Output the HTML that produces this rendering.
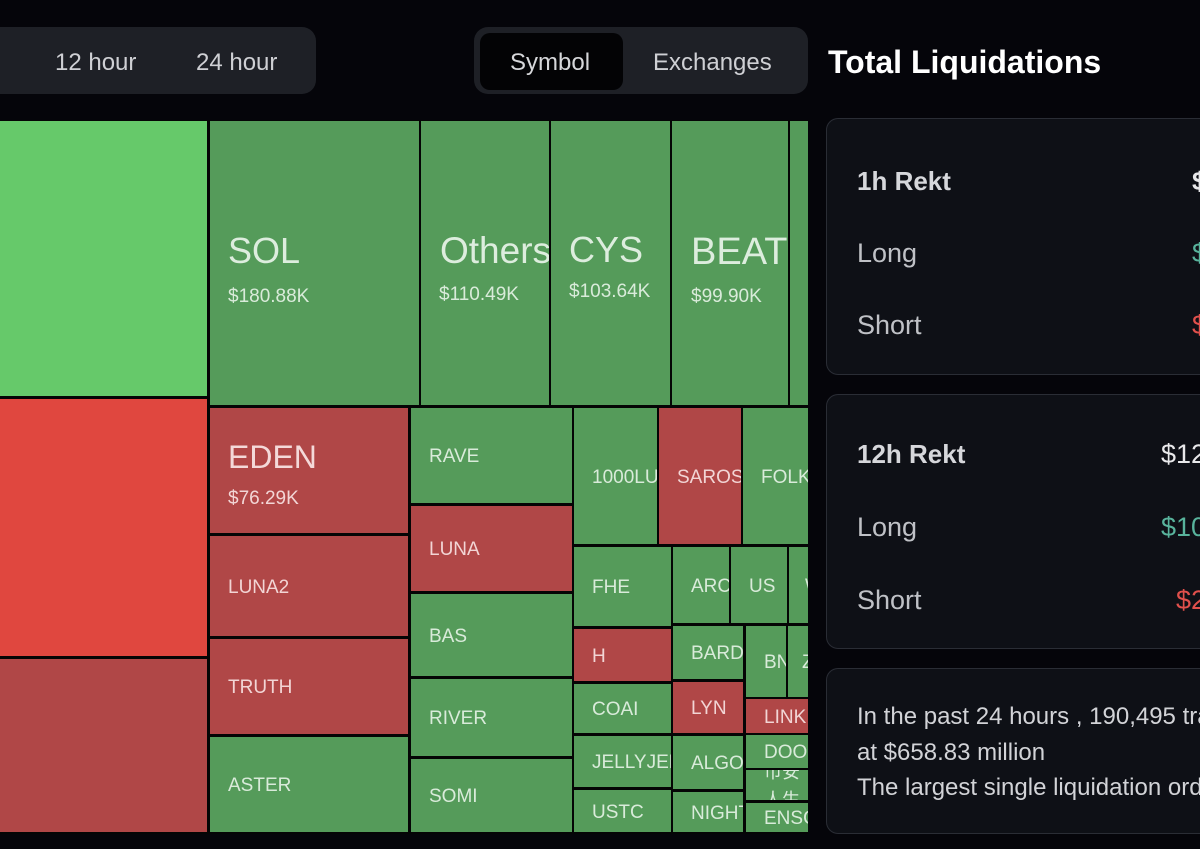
<!DOCTYPE html>
<html><head><meta charset="utf-8">
<style>
*{margin:0;padding:0;box-sizing:border-box}
html,body{width:1200px;height:849px;overflow:hidden;background:#05050a;font-family:"Liberation Sans","Noto Sans CJK SC",sans-serif}
#root{position:relative;width:1200px;height:849px;overflow:hidden}
.abs{position:absolute}
.t{position:absolute;white-space:nowrap;line-height:1}
.c{position:absolute;overflow:hidden;display:flex;align-items:center;padding-left:18px;padding-top:2px}
.c span{font-size:19px;line-height:1;white-space:nowrap;color:rgba(236,246,236,0.88)}
.g{background:#559b5a}
.r{background:#b04747}
.r span{color:rgba(250,228,228,0.9)}
.big{position:absolute;overflow:hidden}
.big .n{position:absolute;white-space:nowrap;line-height:1;color:rgba(236,246,236,0.9)}
.big .p{position:absolute;white-space:nowrap;line-height:1;font-size:19px;color:rgba(236,246,236,0.88)}
.card{position:absolute;left:826px;width:374px;background:#0e1016;border:1.5px solid #2a2d35;border-right:none;border-radius:12px 0 0 12px}
.lab{position:absolute;white-space:nowrap;line-height:1;font-size:27px;color:#bfc1c6}
.clip{position:absolute;left:0;top:0;width:1200px;height:849px;overflow:hidden}
</style></head><body>
<div id="root">

<!-- top bar -->
<div class="abs" style="left:0;top:27px;width:316px;height:67px;background:#1e2026;border-radius:0 14px 14px 0"></div>
<div class="t" style="left:55px;top:51px;font-size:24px;color:#cfd0d4">12 hour</div>
<div class="t" style="left:196px;top:51px;font-size:24px;color:#cfd0d4">24 hour</div>

<div class="abs" style="left:474px;top:27px;width:334px;height:67px;background:#1e2026;border-radius:14px"></div>
<div class="abs" style="left:480px;top:33px;width:143px;height:57px;background:#030305;border-radius:10px"></div>
<div class="t" style="left:510px;top:51px;font-size:24px;color:#d6d7da">Symbol</div>
<div class="t" style="left:653px;top:51px;font-size:24px;color:#cfd0d4">Exchanges</div>

<div class="t" style="left:828px;top:46px;font-size:32px;font-weight:bold;color:#ffffff">Total Liquidations</div>

<!-- treemap -->
<div class="abs" style="left:0;top:120px;width:808px;height:714px;background:#050505"></div>

<div class="abs" style="left:0;top:121px;width:207px;height:275px;background:#66c96a"></div>
<div class="abs" style="left:0;top:399px;width:207px;height:257px;background:#e0473f"></div>
<div class="abs" style="left:0;top:659px;width:207px;height:173px;background:#b04747"></div>

<!-- top row -->
<div class="big g" style="left:210px;top:121px;width:209px;height:284px">
  <div class="n" style="left:18px;top:112px;font-size:36px">SOL</div>
  <div class="p" style="left:18px;top:166px">$180.88K</div>
</div>
<div class="big g" style="left:421px;top:121px;width:128px;height:284px">
  <div class="n" style="left:19px;top:111px;font-size:37px">Others</div>
  <div class="p" style="left:18px;top:164px">$110.49K</div>
</div>
<div class="big g" style="left:551px;top:121px;width:119px;height:284px">
  <div class="n" style="left:18px;top:111px;font-size:36px">CYS</div>
  <div class="p" style="left:18px;top:161px">$103.64K</div>
</div>
<div class="big g" style="left:672px;top:121px;width:116px;height:284px">
  <div class="n" style="left:19px;top:112px;font-size:38px">BEAT</div>
  <div class="p" style="left:19px;top:166px">$99.90K</div>
</div>
<div class="abs g" style="left:790px;top:121px;width:18px;height:284px"></div>

<!-- column A -->
<div class="big r" style="left:210px;top:408px;width:198px;height:125px">
  <div class="n" style="left:18px;top:33px;font-size:32px;color:rgba(250,230,230,0.92)">EDEN</div>
  <div class="p" style="left:18px;top:81px;color:rgba(250,230,230,0.9)">$76.29K</div>
</div>
<div class="c r" style="left:210px;top:536px;width:198px;height:100px"><span>LUNA2</span></div>
<div class="c r" style="left:210px;top:639px;width:198px;height:95px"><span>TRUTH</span></div>
<div class="c g" style="left:210px;top:737px;width:198px;height:95px"><span>ASTER</span></div>

<!-- column B -->
<div class="c g" style="left:411px;top:408px;width:161px;height:95px"><span>RAVE</span></div>
<div class="c r" style="left:411px;top:506px;width:161px;height:85px"><span>LUNA</span></div>
<div class="c g" style="left:411px;top:594px;width:161px;height:82px"><span>BAS</span></div>
<div class="c g" style="left:411px;top:679px;width:161px;height:77px"><span>RIVER</span></div>
<div class="c g" style="left:411px;top:759px;width:161px;height:73px"><span>SOMI</span></div>

<!-- right block -->
<div class="c g" style="left:574px;top:408px;width:83px;height:136px"><span>1000LUNC</span></div>
<div class="c r" style="left:659px;top:408px;width:82px;height:136px"><span>SAROS</span></div>
<div class="c g" style="left:743px;top:408px;width:65px;height:136px"><span>FOLKS</span></div>

<div class="c g" style="left:574px;top:547px;width:97px;height:79px"><span>FHE</span></div>
<div class="c r" style="left:574px;top:629px;width:97px;height:52px"><span>H</span></div>
<div class="c g" style="left:574px;top:684px;width:97px;height:49px"><span>COAI</span></div>
<div class="c g" style="left:574px;top:736px;width:97px;height:51px"><span>JELLYJELLY</span></div>
<div class="c g" style="left:574px;top:790px;width:97px;height:42px"><span>USTC</span></div>

<div class="c g" style="left:673px;top:547px;width:56px;height:76px"><span>ARC</span></div>
<div class="c g" style="left:731px;top:547px;width:56px;height:76px"><span>US</span></div>
<div class="c g" style="left:789px;top:547px;width:19px;height:76px;padding-left:16px"><span>W</span></div>

<div class="c g" style="left:673px;top:626px;width:70px;height:53px"><span>BARD</span></div>
<div class="c r" style="left:673px;top:682px;width:70px;height:51px"><span>LYN</span></div>
<div class="c g" style="left:673px;top:736px;width:70px;height:53px"><span>ALGO</span></div>
<div class="c g" style="left:673px;top:792px;width:70px;height:40px"><span>NIGHT</span></div>

<div class="c g" style="left:746px;top:626px;width:40px;height:71px"><span>BNB</span></div>
<div class="c g" style="left:788px;top:626px;width:20px;height:71px;padding-left:14px"><span>Z</span></div>
<div class="c r" style="left:746px;top:699px;width:62px;height:34px"><span>LINK</span></div>
<div class="c g" style="left:746px;top:735px;width:62px;height:33px"><span>DOOD</span></div>
<div class="c g" style="left:746px;top:770px;width:62px;height:30px;padding-top:0"><span style="white-space:normal;display:block;width:40px;line-height:28px;font-family:'Noto Sans CJK SC',sans-serif;font-size:18px">币安人生</span></div>
<div class="c g" style="left:746px;top:803px;width:62px;height:29px"><span>ENSO</span></div>

<!-- right cards -->
<div class="card" style="top:118px;height:257px"></div>
<div class="t" style="left:857px;top:168px;font-size:26px;font-weight:bold;color:#d6d7db">1h Rekt</div>
<div class="abs" style="left:1192px;top:160px;width:8px;height:200px;overflow:hidden">
  <div class="t" style="left:0;top:8px;font-size:26px;font-weight:bold;color:#e8e8ea">$1</div>
  <div class="t" style="left:0;top:80px;font-size:27px;color:#58b39c">$1</div>
  <div class="t" style="left:0;top:152px;font-size:27px;color:#e0504c">$0</div>
</div>
<div class="lab" style="left:857px;top:240px">Long</div>
<div class="lab" style="left:857px;top:312px">Short</div>

<div class="card" style="top:394px;height:255px"></div>
<div class="t" style="left:857px;top:441px;font-size:26px;font-weight:bold;color:#d6d7db">12h Rekt</div>
<div class="abs" style="left:1161px;top:435px;width:39px;height:200px;overflow:hidden">
  <div class="t" style="left:0;top:6px;font-size:27px;color:#e8e8ea">$128</div>
  <div class="t" style="left:0;top:79px;font-size:27px;color:#58b39c">$104</div>
  <div class="t" style="left:15px;top:152px;font-size:27px;color:#e0504c">$24</div>
</div>
<div class="lab" style="left:857px;top:514px">Long</div>
<div class="lab" style="left:857px;top:587px">Short</div>

<div class="card" style="top:668px;height:166px"></div>
<div class="abs" style="left:857px;top:699px;width:343px;height:120px;overflow:hidden;font-size:24px;line-height:35.5px;color:#d2d3d7;white-space:nowrap">
In the past 24 hours , 190,495 traders were liquidated<br>
at $658.83 million<br>
The largest single liquidation order happened
</div>

</div>
</body></html>
